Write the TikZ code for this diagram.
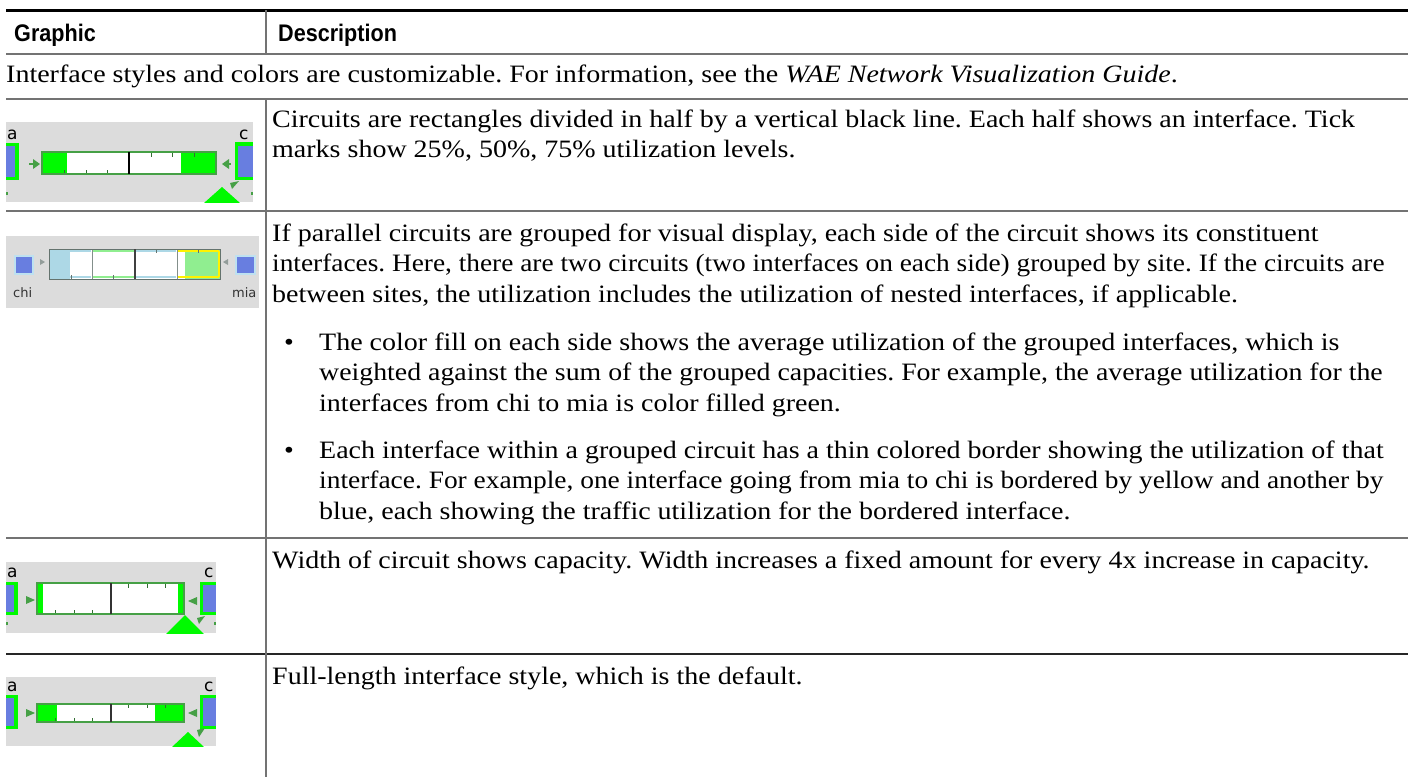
\documentclass[tikz,border=0pt]{standalone}
\usepackage{fontspec}
\setmainfont{Liberation Serif}[FakeStretch=1.12]
\newfontfamily\hdrfont[FakeStretch=0.9]{Liberation Sans}
\newfontfamily\lblfont{DejaVu Sans}
\definecolor{bggray}{RGB}{220,220,220}
\definecolor{ifblue}{RGB}{104,126,224}
\definecolor{brgreen}{RGB}{0,250,0}
\definecolor{dkgreen}{RGB}{70,160,70}
\definecolor{tickgreen}{RGB}{50,110,50}
\definecolor{ltblue}{RGB}{173,216,230}
\definecolor{halo}{RGB}{190,225,240}
\definecolor{ltgreen}{RGB}{144,238,144}
\definecolor{rulegray}{RGB}{115,115,115}
\definecolor{bargray}{RGB}{100,115,110}
\begin{document}
\frenchspacing
\begin{tikzpicture}[x=1pt,y=-1pt,
  body/.style={anchor=base west, inner sep=0, font=\fontsize{25}{30}\selectfont},
  hdr/.style={anchor=base west, inner sep=0, font=\hdrfont\bfseries\fontsize{24}{28}\selectfont},
  lbl/.style={anchor=base west, inner sep=0, font=\lblfont\fontsize{17}{19}\selectfont},
  small/.style={anchor=base west, inner sep=0, font=\lblfont\fontsize{13}{15}\selectfont, text=black!80},
  rule/.style={draw=rulegray, line width=1.3pt},
  barline/.style={draw=dkgreen, line width=1.5pt},
  tick/.style={draw=tickgreen, line width=1pt},
  arr/.style={fill=dkgreen},
]
\useasboundingbox (0,0) rectangle (1408,777);
\fill[white] (0,0) rectangle (1408,777);

% ---------- table rules ----------
\draw[line width=3pt, black] (6,10) -- (1408,10);
\draw[rule] (6,54) -- (1408,54);
\draw[rule] (6,99) -- (1408,99);
\draw[rule] (6,211) -- (1408,211);
\draw[rule] (6,538) -- (1408,538);
\draw[draw=black!85, line width=1.3pt] (6,654) -- (1408,654);
\draw[rule] (266,10) -- (266,54);
\draw[rule] (266,99) -- (266,777);

% ---------- header & text ----------
\node[hdr] (hg) at (14,41) {Graphic};
\node[hdr] (hd) at (278,41) {Description};
\node[body] (intro) at (6,82) {Interface styles and colors are customizable. For information, see the \textit{WAE Network Visualization Guide}.};

\node[body] (r1a) at (272,127) {Circuits are rectangles divided in half by a vertical black line. Each half shows an interface. Tick};
\node[body] (r1b) at (272,157.5) {marks show 25\%, 50\%, 75\% utilization levels.};

\node[body] (r2a) at (272,241) {If parallel circuits are grouped for visual display, each side of the circuit shows its constituent};
\node[body] (r2b) at (272,271.5) {\scalebox{0.976}[1]{interfaces. Here, there are two circuits (two interfaces on each side) grouped by site. If the circuits are}};
\node[body] (r2c) at (272,302) {between sites, the utilization includes the utilization of nested interfaces, if applicable.};
\node[body] (b1) at (284,350) {•};
\node[body] (r2d) at (319,350) {The color fill on each side shows the average utilization of the grouped interfaces, which is};
\node[body] (r2e) at (319,380.5) {\scalebox{0.994}[1]{weighted against the sum of the grouped capacities. For example, the average utilization for the}};
\node[body] (r2f) at (319,411) {interfaces from chi to mia is color filled green.};
\node[body] (b2) at (284,458) {•};
\node[body] (r2g) at (319,458) {Each interface within a grouped circuit has a thin colored border showing the utilization of that};
\node[body] (r2h) at (319,488.5) {\scalebox{0.979}[1]{interface. For example, one interface going from mia to chi is bordered by yellow and another by}};
\node[body] (r2i) at (319,519) {blue, each showing the traffic utilization for the bordered interface.};

\node[body] (r3a) at (272,568) {Width of circuit shows capacity. Width increases a fixed amount for every 4x increase in capacity.};
\node[body] (r4a) at (272,684) {Full-length interface style, which is the default.};

% ---------- graphic row 1 ----------
\begin{scope}
\clip (6,122) rectangle (253,202);
\fill[bggray] (6,122) rectangle (253,202);
\fill[brgreen] (6,143) rectangle (19,180);
\fill[ifblue] (6,146) rectangle (15,177);
\fill[brgreen] (235,142) rectangle (253,180);
\fill[ifblue] (238,146) rectangle (253,177);
\node[lbl] (g1a) at (7,139) {a};
\node[lbl] (g1c) at (239,139) {c};
\fill[arr] (29,163) rectangle (34,165);
\fill[arr] (33,159) -- (40,164) -- (33,169) -- cycle;
\fill[arr] (226,163) rectangle (231,165);
\fill[arr] (229,159) -- (222,164) -- (229,169) -- cycle;
\fill[white] (42,152) rectangle (216,174);
\fill[brgreen] (42,152) rectangle (67,174);
\fill[brgreen] (181,152) rectangle (216,174);
\foreach \t in {64,86,107} \draw[tick] (\t,174) -- (\t,169.5);
\foreach \t in {151,172.5,194} \draw[tick] (\t,152) -- (\t,156.5);
\draw[barline] (42,152) rectangle (216,174);
\draw[black, line width=1.5pt] (129,152) -- (129,174);
\fill[brgreen] (222,187) -- (240,203) -- (204,203) -- cycle;
\fill[arr] (239,181) -- (232,189) -- (230,183) -- cycle;
\fill[arr] (6,192) rectangle (8,195);
\fill[arr] (251,192) rectangle (253,195);
\end{scope}

% ---------- graphic row 2 ----------
\begin{scope}
\fill[bggray] (6,236) rectangle (259,308);
\fill[halo] (14,255) rectangle (34,275);
\fill[ifblue] (16,257) rectangle (32,273);
\fill[halo] (235,255) rectangle (256,275);
\fill[ifblue] (237,257) rectangle (254,273);
\fill[bargray!70] (40,259) -- (45,262) -- (40,265) -- cycle;
\fill[bargray!70] (228,259) -- (223,262) -- (228,265) -- cycle;
\fill[white] (49,249) rectangle (220,279);
\fill[ltblue] (49,249) rectangle (70,279);
\fill[ltgreen] (185,249) rectangle (220,279);
\draw[ltblue, line width=2pt] (50,251) -- (91,251) (50,277) -- (91,277);
\draw[ltgreen, line width=2pt] (93,251) -- (134,251) (93,277) -- (134,277);
\draw[ltblue, line width=2pt] (136,251) -- (176,251) (136,277) -- (176,277);
\draw[yellow, line width=2pt] (178,251) -- (219,251) (178,277) -- (219,277) (219,251) -- (219,277);
\draw[bargray!80, line width=1pt] (92,249) -- (92,279) (177,249) -- (177,279);
\foreach \t in {71,113} \draw[bargray, line width=1pt] (\t,279) -- (\t,275);
\foreach \t in {156,198} \draw[bargray, line width=1pt] (\t,249) -- (\t,253);
\draw[bargray, line width=1pt] (49,249) rectangle (220,279);
\draw[black!75, line width=1.5pt] (135,249) -- (135,279);
\node[small] (chi) at (13,297) {chi};
\node[small] (mia) at (232,297) {mia};
\end{scope}

% ---------- graphic row 3 ----------
\begin{scope}
\clip (6,562) rectangle (216,633);
\fill[bggray] (6,562) rectangle (216,633);
\fill[brgreen] (6,582) rectangle (18,615);
\fill[ifblue] (6,585) rectangle (14,612);
\fill[brgreen] (200,582) rectangle (216,615);
\fill[ifblue] (203,585) rectangle (216,612);
\node[lbl] (g3a) at (7,577) {a};
\node[lbl] (g3c) at (204,577) {c};
\fill[arr] (26,596) -- (35,600) -- (26,604) -- cycle;
\fill[arr] (197,597) -- (188,601) -- (197,605) -- cycle;
\fill[white] (37,583) rectangle (184,614);
\fill[brgreen] (37,583) rectangle (43,614);
\fill[brgreen] (178,583) rectangle (184,614);
\foreach \t in {55,74,92} \draw[tick] (\t,614) -- (\t,609.5);
\foreach \t in {128,147,165} \draw[tick] (\t,583) -- (\t,587.5);
\draw[barline] (37,583) rectangle (184,614);
\draw[black!80, line width=1.5pt] (111,583) -- (111,614);
\fill[brgreen] (185,615) -- (204,634) -- (166,634) -- cycle;
\fill[arr] (205,616) -- (199,624) -- (197,618) -- cycle;
\fill[arr] (6,622) rectangle (8,625);
\fill[arr] (214,622) rectangle (216,625);
\end{scope}

% ---------- graphic row 4 ----------
\begin{scope}
\clip (6,677) rectangle (216,746);
\fill[bggray] (6,677) rectangle (216,746);
\fill[brgreen] (6,695) rectangle (18,729);
\fill[ifblue] (6,698) rectangle (14,726);
\fill[brgreen] (200,695) rectangle (216,729);
\fill[ifblue] (203,698) rectangle (216,726);
\node[lbl] (g4a) at (7,691) {a};
\node[lbl] (g4c) at (204,691) {c};
\fill[arr] (26,709) -- (35,713) -- (26,717) -- cycle;
\fill[arr] (197,709) -- (188,713) -- (197,717) -- cycle;
\fill[white] (37,704) rectangle (184,722);
\fill[brgreen] (37,704) rectangle (57,722);
\fill[brgreen] (155,704) rectangle (184,722);
\foreach \t in {55,74,92} \draw[tick] (\t,722) -- (\t,718);
\foreach \t in {128,147,165} \draw[tick] (\t,704) -- (\t,708);
\draw[barline] (37,704) rectangle (184,722);
\draw[black!80, line width=1.5pt] (111,704) -- (111,722);
\fill[brgreen] (188,732) -- (204,747) -- (172,747) -- cycle;
\fill[arr] (205,728) -- (199,737) -- (197,730) -- cycle;
\end{scope}
\end{tikzpicture}
\end{document}
